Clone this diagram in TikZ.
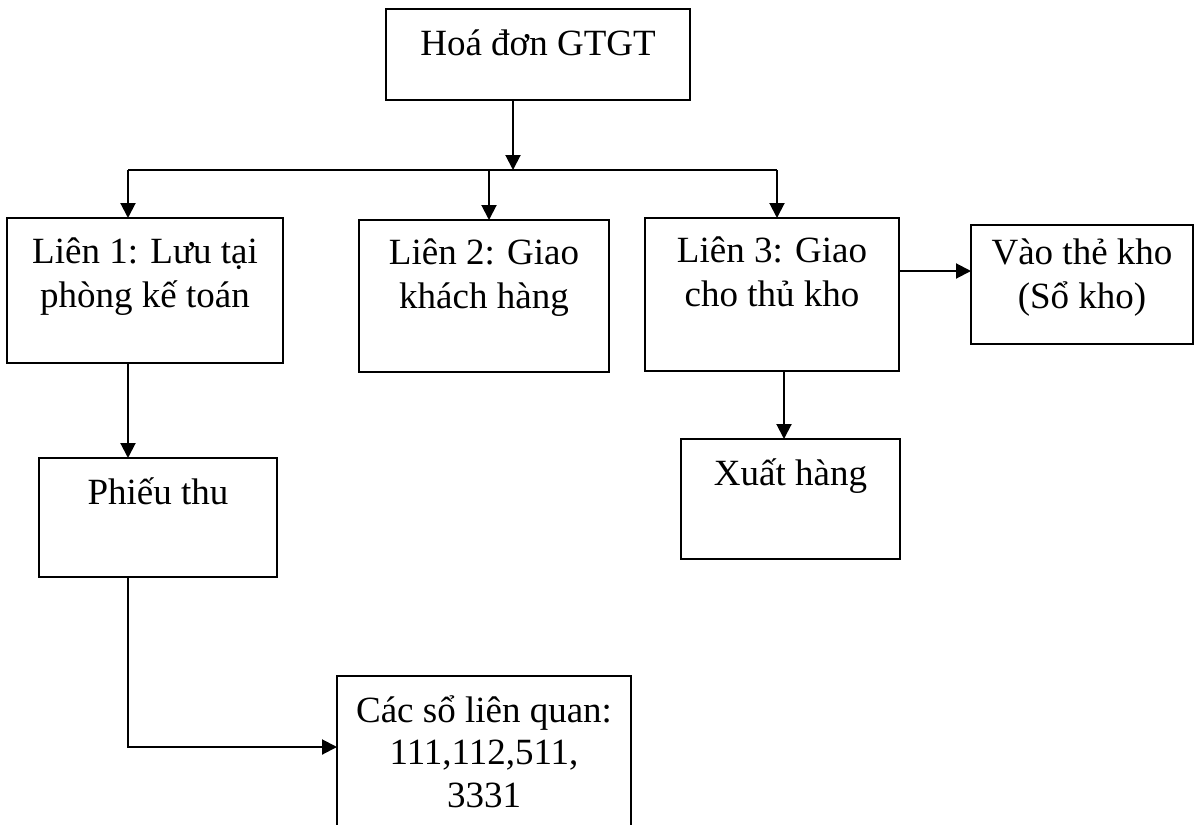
\documentclass[tikz,border=0pt]{standalone}
\usepackage{fontspec}
\setmainfont{Liberation Serif}
\usetikzlibrary{arrows.meta}
\begin{document}
\begin{tikzpicture}[x=1pt,y=-1pt,
  box/.style={draw, line width=2pt, inner sep=0pt, outer sep=0pt},
  txt/.style={inner sep=0pt, anchor=base, font=\fontsize{37}{44}\selectfont},
  link/.style={line width=2pt},
  arr/.style={link, -{Triangle[length=15pt,width=15pt]}}]
\clip (0,0) rectangle (1195,825);
\fill[white] (0,0) rectangle (1195,825);

% boxes
\node[box, minimum width=304pt, minimum height=91pt]  (hd) at (538,54.5)  {};
\node[box, minimum width=276pt, minimum height=145pt] (l1) at (145,290.5) {};
\node[box, minimum width=250pt, minimum height=152pt] (l2) at (484,296)   {};
\node[box, minimum width=254pt, minimum height=153pt] (l3) at (772,294.5) {};
\node[box, minimum width=222pt, minimum height=119pt] (vk) at (1082,284.5) {};
\node[box, minimum width=238pt, minimum height=119pt] (pt) at (158,517.5) {};
\node[box, minimum width=219pt, minimum height=120pt] (xh) at (790.5,499) {};
\node[box, minimum width=294pt, minimum height=174pt] (cs) at (484,763)   {};

% labels, first baseline about 45pt below the box top
\node[txt] (thd) at ([yshift=-46pt]hd.north) {Hoá đơn GTGT};
\node[txt] (tl1) at ([yshift=-45pt]l1.north) {\begin{tabular}[t]{@{}c@{}}Liên 1: Lưu tại\\phòng kế toán\end{tabular}};
\node[txt] (tl2) at ([yshift=-44pt]l2.north) {\begin{tabular}[t]{@{}c@{}}Liên 2: Giao\\khách hàng\end{tabular}};
\node[txt] (tl3) at ([yshift=-44pt]l3.north) {\begin{tabular}[t]{@{}c@{}}Liên 3: Giao\\cho thủ kho\end{tabular}};
\node[txt] (tvk) at ([yshift=-39pt]vk.north) {\begin{tabular}[t]{@{}c@{}}Vào thẻ kho\\(Sổ kho)\end{tabular}};
\node[txt] (tpt) at ([yshift=-46pt]pt.north) {Phiếu thu};
\node[txt] (txh) at ([yshift=-46pt]xh.north) {Xuất hàng};
\node[txt, font=\fontsize{37}{42.5}\selectfont] (tcs) at ([yshift=-46pt]cs.north)
  {\begin{tabular}[t]{@{}c@{}}Các sổ liên quan:\\111,112,511,\\3331\end{tabular}};

% distribution bus
\coordinate (j)  at (513,170);
\coordinate (jl) at (128,170);
\coordinate (jm) at (489,170);
\coordinate (jr) at (777,170);
\draw[arr] (hd.south -| j) -- (j);
\draw[link] (jl) -- (jr);
\draw[arr] (jl) -- (jl |- l1.north);
\draw[arr] (jm) -- (jm |- l2.north);
\draw[arr] (jr) -- (jr |- l3.north);

% onward flows
\coordinate (h3) at (935,271);
\draw[arr] (l3.east |- h3) -- (vk.west |- h3);
\coordinate (v1) at (128,400);
\draw[arr] (l1.south -| v1) -- (pt.north -| v1);
\coordinate (v3) at (784,400);
\draw[arr] (l3.south -| v3) -- (xh.north -| v3);
\coordinate (k) at (128,747);
\draw[arr] (pt.south -| k) -- (k) -- (cs.west |- k);
\end{tikzpicture}
\end{document}
